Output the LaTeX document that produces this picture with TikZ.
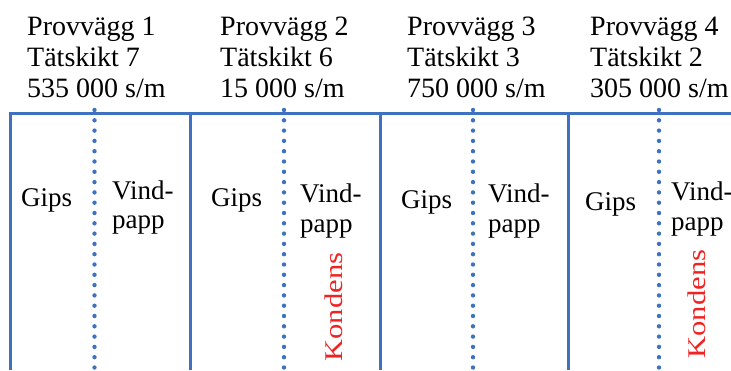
\documentclass[tikz,border=0pt]{standalone}
\usepackage{fontspec}
\setmainfont{LiberationSerif}[Extension=.ttf, UprightFont=*-Regular,
  BoldFont=*-Bold, ItalicFont=*-Italic, BoldItalicFont=*-BoldItalic]
\definecolor{vaggbla}{RGB}{62,114,192}
\definecolor{kondensrod}{RGB}{240,35,35}

\begin{document}
\begin{tikzpicture}[x=1pt, y=-1pt,
    vagg/.style={line width=3pt, draw=vaggbla},
    skikt/.style={line width=4.4pt, draw=vaggbla, line cap=round,
                  dash pattern=on 0pt off 10.3pt},
    rubrik/.style={anchor=base west, align=left, inner sep=0pt,
                   font=\fontsize{28}{31}\selectfont},
    lager/.style={anchor=base west, align=left, inner sep=0pt,
                  font=\fontsize{27}{29.5}\selectfont},
    kondens/.style={rotate=90, inner sep=0pt, text=kondensrod,
                    font=\fontsize{25.5}{28}\selectfont}]
  \useasboundingbox (0,0) rectangle (731,370);

  % Överkant och väggar
  \draw[vagg] (8.5,113) -- (731,113);
  \foreach \x in {10,190,380,568}
    \draw[vagg] (\x,113) -- (\x,370);

  % Tätskikt (prickade linjer)
  \foreach \x in {94.5,284,473,659}
    \draw[skikt] (\x,110) -- (\x,370);

  % Provvägg 1
  \node[rubrik] (rub1) at (27,97) {Provvägg 1\\Tätskikt 7\\535 000 s/m};
  \node[lager] (gips1) at (21,206) {Gips};
  \node[lager] (vind1) at (112,228.5) {Vind-\\papp};

  % Provvägg 2
  \node[rubrik] (rub2) at (220,97) {Provvägg 2\\Tätskikt 6\\15 000 s/m};
  \node[lager] (gips2) at (211,206) {Gips};
  \node[lager] (vind2) at (300,232) {Vind-\\papp};
  \node[kondens] (kond2) at (334,307) {\scalebox{1.2}[1]{Kondens}};

  % Provvägg 3
  \node[rubrik] (rub3) at (407,97) {Provvägg 3\\Tätskikt 3\\750 000 s/m};
  \node[lager] (gips3) at (401,208) {Gips};
  \node[lager] (vind3) at (488,232) {Vind-\\papp};

  % Provvägg 4
  \node[rubrik] (rub4) at (590,97) {Provvägg 4\\Tätskikt 2\\305 000 s/m};
  \node[lager] (gips4) at (585,210) {Gips};
  \node[lager] (vind4) at (671,230) {Vind-\\papp};
  \node[kondens] (kond4) at (697,304) {\scalebox{1.2}[1]{Kondens}};
\end{tikzpicture}
\end{document}
